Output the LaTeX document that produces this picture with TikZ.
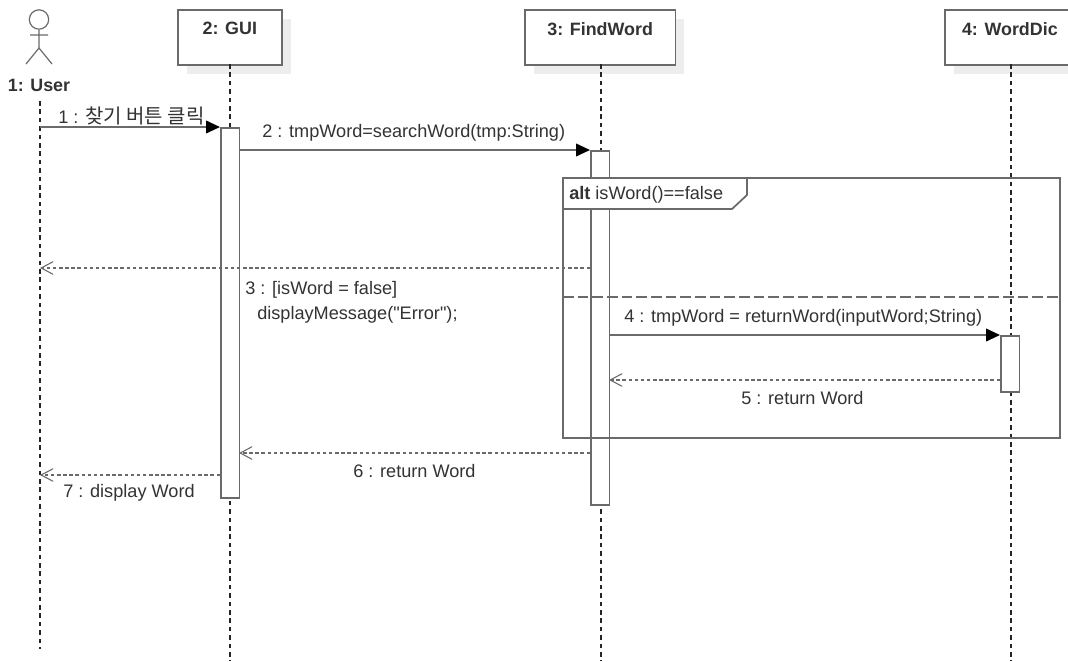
\documentclass[tikz,border=0pt]{standalone}
\usepackage{fontspec}
\setmainfont{Liberation Sans}
\newfontfamily\krfont{Noto Sans CJK KR}
\newfontfamily\plainfont{Liberation Sans}
\usetikzlibrary{arrows.meta,positioning}
\definecolor{ln}{HTML}{6A6A6A}
\definecolor{tx}{HTML}{333333}
\tikzset{
  x=0.75pt,y=-0.75pt,
  headbox/.style={draw=ln,line width=1.3pt,fill=white,anchor=north west,minimum height=41.25pt,text depth=13pt,inner sep=0pt,font=\bfseries\fontsize{13.4pt}{15pt}\selectfont,text=tx},
  shadowbar/.style={fill=black!7,draw=none},
  life/.style={draw=black!85,line width=1.05pt,dash pattern=on 3.4pt off 2.9pt},
  activ/.style={draw=ln,line width=1.3pt,fill=white,anchor=north west,inner sep=0pt,minimum width=14pt},
  sync/.style={draw=ln,line width=1.3pt,-{Triangle[length=10.5pt,width=9.5pt,color=black]}},
  ret/.style={draw=ln,line width=1.3pt,dash pattern=on 2.6pt off 2pt,-{Straight Barb[length=9pt,width=9.5pt,color=ln,line width=0.8pt]}},
  msg/.style={font=\fontsize{13.6pt}{16pt}\selectfont,text=tx,inner sep=0pt},
  frameline/.style={draw=ln,line width=1.3pt},
}
\begin{document}
\begin{tikzpicture}
\useasboundingbox[fill=white] (0,0) rectangle (1068,661);
% head boxes
\fill[shadowbar] (187,19) rectangle (291,74);
\fill[shadowbar] (534,19) rectangle (684,74);
\fill[shadowbar] (954,19) rectangle (1068,74);
\node[headbox,minimum width=78pt] (gui) at (177,9) {2: GUI};
\node[headbox,minimum width=113pt] (find) at (524,9) {3: FindWord};
\node[headbox,minimum width=97.5pt] (dic) at (944,9) {4: WordDic};
% actor
\node[circle,draw=ln,line width=0.9pt,minimum size=14.5pt,inner sep=0pt] (uhead) at (39,19.5) {};
\coordinate (ubody) at (39,48);
\coordinate (uarml) at (30,35);
\coordinate (uarmr) at (48,35);
\coordinate (ulegl) at (26,64);
\coordinate (ulegr) at (52,64);
\draw[ln,line width=0.9pt] (uhead.south) -- (ubody) (uarml) -- (uarmr) (ulegl) -- (ubody) -- (ulegr);
\node[font=\bfseries\fontsize{13.4pt}{15pt}\selectfont,text=tx,inner sep=0pt] (user) at (39,85) {1: User};
% lifeline ends
\coordinate (uS) at (40,101);
\coordinate (uE) at (40,649);
\coordinate (gS) at (230,64);
\coordinate (gE) at (230,661);
\coordinate (fS) at (601,64);
\coordinate (fE) at (601,661);
\coordinate (dS) at (1011,64);
\coordinate (dE) at (1011,661);
\draw[life] (uS) -- (uE);
\draw[life] (gS) -- (gE);
\draw[life] (fS) -- (fE);
\draw[life] (dS) -- (dE);
% activations
\node[activ,minimum height=277.5pt] (ag) at (220,127) {};
\node[activ,minimum height=265.5pt] (af) at (590,150) {};
\node[activ,minimum height=42pt] (ad) at (1000,335) {};
% alt frame
\draw[frameline] (563,178) rectangle (1060,438);
\draw[frameline,fill=white] (563,178) -- (747,178) -- (747,195) -- (732,209) -- (563,209) -- cycle;
\node[anchor=west,msg] (altlabel) at (569,195) {\textbf{alt} isWord()==false};
\coordinate (divL) at (563,297);
\coordinate (divR) at (1060,297);
\draw[ln,line width=1.3pt,dash pattern=on 8pt off 3pt] (divL) -- (divR);
% messages
\coordinate (m1s) at (40,127);
\coordinate (m2s) at (239,150);
\coordinate (m3s) at (590,268);
\coordinate (m3e) at (40,268);
\coordinate (m4s) at (609,335);
\coordinate (m5s) at (1000,380);
\coordinate (m5e) at (609,380);
\coordinate (m6s) at (590,453);
\coordinate (m6e) at (239,453);
\coordinate (m7s) at (220,475);
\coordinate (m7e) at (40,475);
\draw[sync] (m1s) -- (ag.north west);
\draw[sync] (m2s) -- (af.north west);
\draw[ret] (m3s) -- (m3e);
\draw[sync] (m4s) -- (ad.north west);
\draw[ret] (m5s) -- (m5e);
\draw[ret] (m6s) -- (m6e);
\draw[ret] (m7s) -- (m7e);
% labels
\node[msg,anchor=west] (l1) at (58,116) {1 : {\krfont\fontsize{15pt}{16pt}\selectfont 찾기 버튼 클릭}};
\node[msg,anchor=west] (l2) at (262,133) {2 : tmpWord=searchWord(tmp:String)};
\node[msg,anchor=west] (l3a) at (245,290) {3 : [isWord = false]};
\node[msg,anchor=west] (l3b) at (257,315) {\plainfont displayMessage("Error");};
\node[msg,anchor=west] (l4) at (624,318) {4 : tmpWord = returnWord(inputWord;String)};
\node[msg,anchor=west] (l5) at (741,398) {5 : return Word};
\node[msg,anchor=west] (l6) at (353,471) {6 : return Word};
\node[msg,anchor=west] (l7) at (63,493) {7 : display Word};
\end{tikzpicture}
\end{document}
